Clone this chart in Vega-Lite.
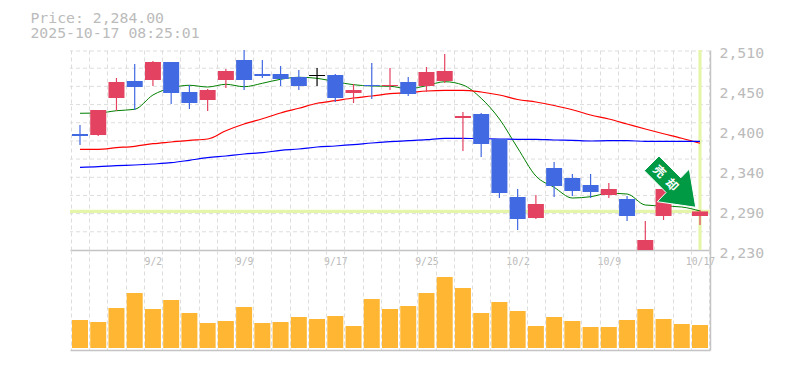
{"$schema":"https://vega.github.io/schema/vega-lite/v6.json","background":"white","padding":{"left":30,"top":10,"right":15,"bottom":10},"bounds":"flush","spacing":0,
"title":{"text":["Price: 2,284.00","2025-10-17 08:25:01"],"anchor":"start","dx":-38,"offset":4.5,"font":"DejaVu Sans Mono","fontSize":14.8,"fontWeight":"normal","color":"#bbbbbb","lineHeight":15},
"config":{"view":{"stroke":null},"axis":{"labelOverlap":false}},
"datasets":{"rows":[
{"i":0,"date":"8/27","dir":"down","o":2392.4,"h":2405,"l":2377,"c":2389.6,"m5":2421.4,"m25":2371,"m75":2345.8,"v":28},
{"i":1,"date":"8/28","dir":"up","o":2391,"h":2426,"l":2389.6,"c":2426,"m5":2421.8,"m25":2371,"m75":2346.6,"v":26},
{"i":2,"date":"8/29","dir":"up","o":2442.8,"h":2470.8,"l":2425,"c":2465.2,"m5":2425,"m25":2373.2,"m75":2348,"v":40},
{"i":3,"date":"9/1","dir":"down","o":2466.6,"h":2490.4,"l":2426,"c":2458.2,"m5":2427,"m25":2375.2,"m75":2349,"v":55},
{"i":4,"date":"9/2","dir":"up","o":2468,"h":2494.6,"l":2459.6,"c":2493.2,"m5":2447,"m25":2378.8,"m75":2350.4,"v":39},
{"i":5,"date":"9/3","dir":"down","o":2493.2,"h":2493.2,"l":2434.4,"c":2449.8,"m5":2456.8,"m25":2381.2,"m75":2352.2,"v":48},
{"i":6,"date":"9/4","dir":"down","o":2451.2,"h":2461,"l":2427.4,"c":2435.8,"m5":2460.6,"m25":2383.6,"m75":2355.6,"v":35},
{"i":7,"date":"9/5","dir":"up","o":2440,"h":2455.4,"l":2424.6,"c":2454,"m5":2458.2,"m25":2385.4,"m75":2359.2,"v":25},
{"i":8,"date":"9/8","dir":"up","o":2468,"h":2483.4,"l":2456.8,"c":2480.6,"m5":2462,"m25":2397,"m75":2361.6,"v":27},
{"i":9,"date":"9/9","dir":"down","o":2496,"h":2510,"l":2454,"c":2468,"m5":2458.6,"m25":2406.4,"m75":2364.4,"v":41},
{"i":10,"date":"9/10","dir":"down","o":2476.4,"h":2496,"l":2470.8,"c":2473.6,"m5":2463.4,"m25":2413.8,"m75":2366.2,"v":25},
{"i":11,"date":"9/11","dir":"down","o":2476.4,"h":2487.6,"l":2459.6,"c":2469.4,"m5":2469,"m25":2421.8,"m75":2369.6,"v":26},
{"i":12,"date":"9/12","dir":"down","o":2472.2,"h":2482,"l":2454,"c":2459.6,"m5":2471.8,"m25":2428.4,"m75":2371.4,"v":31},
{"i":13,"date":"9/16","dir":"flat","o":2475,"h":2484.8,"l":2459.6,"c":2473.6,"m5":2470.4,"m25":2435.4,"m75":2374.2,"v":29},
{"i":14,"date":"9/17","dir":"down","o":2475,"h":2476.4,"l":2437.2,"c":2442.8,"m5":2465.6,"m25":2439,"m75":2375.6,"v":32},
{"i":15,"date":"9/18","dir":"up","o":2449.8,"h":2462.4,"l":2435.8,"c":2454,"m5":2461.4,"m25":2442.8,"m75":2377.4,"v":22},
{"i":16,"date":"9/19","dir":"down","o":2461,"h":2491.8,"l":2441.4,"c":2459.6,"m5":2459.6,"m25":2445.6,"m75":2379.8,"v":49},
{"i":17,"date":"9/22","dir":"up","o":2459.6,"h":2484.8,"l":2454,"c":2461,"m5":2459.2,"m25":2448.8,"m75":2381.6,"v":39},
{"i":18,"date":"9/24","dir":"down","o":2465.2,"h":2472.2,"l":2445.6,"c":2448.4,"m5":2455.8,"m25":2450.2,"m75":2383,"v":42},
{"i":19,"date":"9/25","dir":"up","o":2459.6,"h":2486.2,"l":2451.2,"c":2479.2,"m5":2460,"m25":2452.6,"m75":2384.4,"v":55},
{"i":20,"date":"9/26","dir":"up","o":2466.6,"h":2504.4,"l":2463.8,"c":2480.6,"m5":2465.6,"m25":2453.6,"m75":2386.4,"v":71},
{"i":21,"date":"9/29","dir":"up","o":2414.8,"h":2423.2,"l":2368.6,"c":2417.6,"m5":2461,"m25":2453.6,"m75":2386.4,"v":60},
{"i":22,"date":"9/30","dir":"down","o":2420.4,"h":2421.8,"l":2360.2,"c":2378.4,"m5":2442.4,"m25":2451.2,"m75":2385.8,"v":35},
{"i":23,"date":"10/1","dir":"down","o":2385.4,"h":2385.4,"l":2302.8,"c":2309.8,"m5":2413.4,"m25":2447,"m75":2385.4,"v":46},
{"i":24,"date":"10/2","dir":"down","o":2304.2,"h":2315.4,"l":2258,"c":2273.4,"m5":2372.8,"m25":2440.7,"m75":2385,"v":37},
{"i":25,"date":"10/3","dir":"up","o":2274.8,"h":2307,"l":2273.4,"c":2294.4,"m5":2333.6,"m25":2437.2,"m75":2385,"v":22},
{"i":26,"date":"10/6","dir":"down","o":2344.8,"h":2353.2,"l":2304.2,"c":2319.6,"m5":2317.8,"m25":2432.3,"m75":2384,"v":31},
{"i":27,"date":"10/7","dir":"down","o":2330.8,"h":2336.4,"l":2305.6,"c":2312.6,"m5":2302.8,"m25":2426.4,"m75":2383.6,"v":27},
{"i":28,"date":"10/8","dir":"down","o":2321,"h":2336.4,"l":2302.8,"c":2311.2,"m5":2304.6,"m25":2419,"m75":2382.6,"v":21},
{"i":29,"date":"10/9","dir":"up","o":2307,"h":2323.8,"l":2302.8,"c":2315.4,"m5":2309.4,"m25":2413.4,"m75":2383,"v":21},
{"i":30,"date":"10/10","dir":"down","o":2301.4,"h":2305.6,"l":2270.6,"c":2277.6,"m5":2308.4,"m25":2406.4,"m75":2383,"v":28},
{"i":31,"date":"10/14","dir":"up","o":2230,"h":2270.6,"l":2230,"c":2244,"m5":2293,"m25":2399.4,"m75":2382.2,"v":39},
{"i":32,"date":"10/15","dir":"up","o":2277.6,"h":2315.4,"l":2272,"c":2315.4,"m5":2291.6,"m25":2392.8,"m75":2382.2,"v":29},
{"i":33,"date":"10/16","dir":"up","o":2297.2,"h":2321,"l":2295.8,"c":2319.6,"m5":2290.2,"m25":2386.4,"m75":2382.2,"v":24},
{"i":34,"date":"10/17","dir":"up","o":2277.6,"h":2286,"l":2265,"c":2284,"m5":2284.6,"m25":2379.4,"m75":2382.2,"v":23}
]},
"vconcat":[
{"width":640,"height":200,
"data":{"name":"rows"},
"layer":[
{"data":{"values":[{"g":2508.6},{"g":2484.5},{"g":2459.1},{"g":2433.6},{"g":2408.2},{"g":2382.7},{"g":2357.3},{"g":2331.8},{"g":2306.4},{"g":2280.9},{"g":2255.5}]},
"mark":{"type":"rule","color":"#dddddd","strokeWidth":1,"strokeDash":[4,3]},
"encoding":{"y":{"field":"g","type":"quantitative","scale":{"domain":[2230,2510],"nice":false,"zero":false},
"axis":{"orient":"right","title":null,"grid":false,"ticks":false,"domain":true,"domainColor":"#c4c4c4","domainWidth":1.5,"values":[2230,2286,2342,2398,2454,2510],"tickCount":200,"labelExpr":"format(round(datum.value/10)*10,',')","labelFont":"DejaVu Sans Mono","labelFontSize":14.8,"labelColor":"#bbbbbb","labelPadding":9,"labelOffset":3,"labelFlush":false,"labelOverlap":false}}}},
{"data":{"values":[{"price":2284,"i":34}]},"mark":{"type":"rule","color":"#e5f5a9","strokeWidth":3.2},"encoding":{"y":{"field":"price","type":"quantitative"}}},
{"data":{"values":[{"price":2284,"i":34}]},"mark":{"type":"rule","color":"#e5f5a9","strokeWidth":3.2},"encoding":{"x":{"field":"i","type":"quantitative","scale":{"domain":[-0.548,34.548],"nice":false,"zero":false,"padding":0},
"axis":{"orient":"bottom","title":null,"grid":true,"gridColor":"#dddddd","gridDash":[4,3],"gridWidth":1,"ticks":false,"domain":true,"domainColor":"#c4c4c4","domainWidth":1.5,"tickCount":200,"values":[-0.5,0.5,1.5,2.5,3.5,4.5,5.5,6.5,7.5,8.5,9.5,10.5,11.5,12.5,13.5,14.5,15.5,16.5,17.5,18.5,19.5,20.5,21.5,22.5,23.5,24.5,25.5,26.5,27.5,28.5,29.5,30.5,31.5,32.5,33.5,34.5],"labelExpr":"datum.value==3.5?'9/2':datum.value==8.5?'9/9':datum.value==13.5?'9/17':datum.value==18.5?'9/25':datum.value==23.5?'10/2':datum.value==28.5?'10/9':datum.value==33.5?'10/17':''","labelOffset":9.1,"labelPadding":6,"labelFont":"DejaVu Sans Mono","labelFontSize":9.8,"labelColor":"#bbbbbb","labelFlush":false,"labelOverlap":false,"labelBound":false}}}},
{"mark":{"type":"line","color":"#008000","strokeWidth":1,"interpolate":"monotone"},"encoding":{"x":{"field":"i","type":"quantitative"},"y":{"field":"m5","type":"quantitative"}}},
{"mark":{"type":"line","color":"#ff0000","strokeWidth":1.2,"interpolate":"monotone"},"encoding":{"x":{"field":"i","type":"quantitative"},"y":{"field":"m25","type":"quantitative"}}},
{"mark":{"type":"line","color":"#0000ff","strokeWidth":1.2,"interpolate":"monotone"},"encoding":{"x":{"field":"i","type":"quantitative"},"y":{"field":"m75","type":"quantitative"}}},
{"mark":{"type":"rule","strokeWidth":1.2},"encoding":{"x":{"field":"i","type":"quantitative"},"y":{"field":"h","type":"quantitative"},"y2":{"field":"l"},"color":{"field":"dir","type":"nominal","legend":null,"scale":{"domain":["up","down","flat"],"range":["#e34260","#4169e1","#000000"]}}}},
{"mark":{"type":"bar","size":16,"orient":"vertical"},"encoding":{"x":{"field":"i","type":"quantitative"},"y":{"field":"o","type":"quantitative"},"y2":{"field":"c"},"color":{"field":"dir","type":"nominal","legend":null}}},
{"data":{"values":[{"i":32.355,"price":2325.2}]},"mark":{"type":"point","filled":true,"opacity":1,"size":3600,"color":"#009944","stroke":"#ffffff","strokeWidth":1,"shape":"M-0.367,-0.867L-0.857,-0.377L-0.13,0.35L-0.423,0.657L0.857,0.843L0.643,-0.433L0.36,-0.14Z"},"encoding":{"x":{"field":"i","type":"quantitative"},"y":{"field":"price","type":"quantitative"}}},
{"data":{"values":[{"i":31.77,"price":2339.6,"t":"売"},{"i":32.45,"price":2321,"t":"却"}]},"mark":{"type":"text","color":"#ffffff","font":"Noto Sans CJK JP","fontWeight":"bold","fontSize":12,"angle":45},"encoding":{"x":{"field":"i","type":"quantitative"},"y":{"field":"price","type":"quantitative"},"text":{"field":"t"}}}
]},
{"width":640,"height":100,
"data":{"name":"rows"},
"mark":{"type":"bar","size":16,"color":"#ffb733","orient":"vertical"},
"encoding":{"x":{"field":"i","type":"quantitative","scale":{"domain":[-0.548,34.548],"nice":false,"zero":false,"padding":0},
"axis":{"orient":"bottom","title":null,"grid":true,"gridColor":"#dddddd","gridDash":[4,3],"gridWidth":1,"ticks":false,"labels":false,"domain":true,"domainColor":"#c4c4c4","domainWidth":1.5,"tickCount":200,"values":[-0.5,0.5,1.5,2.5,3.5,4.5,5.5,6.5,7.5,8.5,9.5,10.5,11.5,12.5,13.5,14.5,15.5,16.5,17.5,18.5,19.5,20.5,21.5,22.5,23.5,24.5,25.5,26.5,27.5,28.5,29.5,30.5,31.5,32.5,33.5,34.5]}},
"y":{"field":"v","type":"quantitative","scale":{"domain":[-2,98],"nice":false,"zero":false},"axis":{"orient":"right","title":null,"grid":false,"ticks":false,"labels":false,"domain":true,"domainColor":"#c4c4c4","domainWidth":1.5}}}
}
]}
